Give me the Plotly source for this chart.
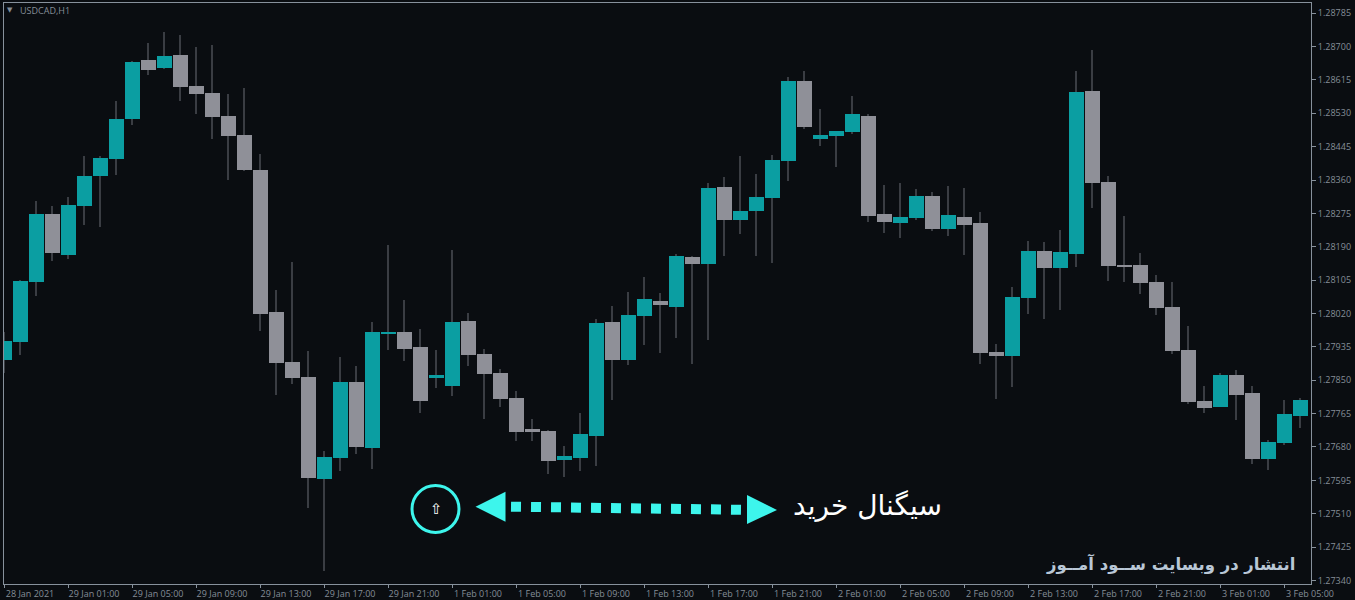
import numpy as np
import plotly.graph_objects as go

opens = [1.27901,1.27947,1.28100,1.28274,1.28169,1.28294,1.28370,1.28414,1.28516,1.28666,1.28646,1.28679,1.28600,1.28582,1.28523,1.28475,1.28386,1.28024,1.27896,1.27858,1.27598,1.27652,1.27845,1.27677,1.27970,1.27973,1.27935,1.27856,1.27835,1.28001,1.27917,1.27868,1.27805,1.27726,1.27721,1.27647,1.27652,1.27708,1.27998,1.27901,1.28014,1.28052,1.28037,1.28164,1.28146,1.28342,1.28258,1.28281,1.28314,1.28409,1.28613,1.28465,1.28472,1.28483,1.28523,1.28274,1.28251,1.28263,1.28319,1.28235,1.28266,1.28251,1.27922,1.27912,1.28059,1.28179,1.28136,1.28172,1.28587,1.28355,1.28144,1.28144,1.28100,1.28037,1.27927,1.27797,1.27782,1.27863,1.27817,1.27649,1.27690,1.27759]
closes = [1.27950,1.28103,1.28274,1.28174,1.28297,1.28370,1.28416,1.28516,1.28661,1.28641,1.28676,1.28597,1.28579,1.28521,1.28472,1.28386,1.28019,1.27894,1.27856,1.27601,1.27654,1.27845,1.27680,1.27973,1.27973,1.27930,1.27797,1.27863,1.27998,1.27914,1.27866,1.27802,1.27718,1.27718,1.27644,1.27657,1.27713,1.27996,1.27901,1.28016,1.28057,1.28042,1.28167,1.28146,1.28340,1.28258,1.28281,1.28317,1.28411,1.28613,1.28495,1.28475,1.28485,1.28528,1.28268,1.28253,1.28266,1.28319,1.28235,1.28271,1.28246,1.27919,1.27912,1.28062,1.28179,1.28136,1.28177,1.28585,1.28353,1.28141,1.28141,1.28098,1.28034,1.27924,1.27794,1.27779,1.27863,1.27812,1.27649,1.27692,1.27764,1.27800]
highs = [1.27973,1.28105,1.28307,1.28294,1.28317,1.28421,1.28421,1.28562,1.28664,1.28709,1.28737,1.28730,1.28699,1.28704,1.28579,1.28595,1.28427,1.28080,1.28151,1.27924,1.27670,1.27909,1.27886,1.27998,1.28195,1.28054,1.27980,1.27927,1.28182,1.28021,1.27930,1.27878,1.27822,1.27751,1.27723,1.27682,1.27766,1.28006,1.28039,1.28075,1.28113,1.28072,1.28172,1.28167,1.28353,1.28368,1.28421,1.28376,1.28424,1.28623,1.28638,1.28541,1.28485,1.28574,1.28528,1.28347,1.28353,1.28337,1.28330,1.28345,1.28340,1.28279,1.27942,1.28087,1.28205,1.28202,1.28233,1.28638,1.28692,1.28370,1.28268,1.28174,1.28118,1.28100,1.27988,1.27835,1.27868,1.27876,1.27835,1.27698,1.27800,1.27805]
lows = [1.27868,1.27914,1.28065,1.28154,1.28159,1.28246,1.28240,1.28373,1.28500,1.28628,1.28643,1.28562,1.28528,1.28465,1.28360,1.28383,1.27975,1.27812,1.27840,1.27524,1.27364,1.27619,1.27662,1.27624,1.27927,1.27899,1.27766,1.27830,1.27810,1.27886,1.27751,1.27782,1.27695,1.27695,1.27611,1.27603,1.27619,1.27631,1.27800,1.27889,1.27940,1.27919,1.27958,1.27891,1.27952,1.28167,1.28223,1.28167,1.28149,1.28358,1.28490,1.28447,1.28393,1.28477,1.28253,1.28225,1.28212,1.28258,1.28230,1.28217,1.28169,1.27891,1.27802,1.27833,1.28019,1.28006,1.28029,1.28138,1.28289,1.28103,1.28100,1.28070,1.28016,1.27917,1.27789,1.27766,1.27782,1.27748,1.27636,1.27621,1.27685,1.27728]

tick_candles = list(range(0, 84, 4))
tick_labels = ["28 Jan 2021","29 Jan 01:00","29 Jan 05:00","29 Jan 09:00","29 Jan 13:00","29 Jan 17:00","29 Jan 21:00",
               "1 Feb 01:00","1 Feb 05:00","1 Feb 09:00","1 Feb 13:00","1 Feb 17:00","1 Feb 21:00",
               "2 Feb 01:00","2 Feb 05:00","2 Feb 09:00","2 Feb 13:00","2 Feb 17:00","2 Feb 21:00",
               "3 Feb 01:00","3 Feb 05:00"]
price_ticks = [1.27340,1.27425,1.27510,1.27595,1.27680,1.27765,1.27850,1.27935,1.28020,1.28105,1.28190,1.28275,1.28360,1.28445,1.28530,1.28615,1.28700,1.28785]
symbol_label = "USDCAD,H1"
signal_label = "سیگنال خرید"
source_label = "انتشار در وبسایت ســود آمــوز"

BG = "#0a0d11"; TEAL = "#0b9ea2"; GREY = "#8f9098"; WICK = "#3a3d43"
FRAME = "#87919c"; LABEL = "#858e98"; CYAN = "#3df5ec"

W, H = 1355, 600
L, R, T, B = 4, 1311, 3, 584   # plot frame in page pixels
def px(x): return (x - L) / (R - L)
def py(y): return (B - y) / (B - T)

o, c, h, l = map(np.array, (opens, closes, highs, lows))
idx = np.arange(len(o))
colors = [TEAL if up else GREY for up in c >= o]

fig = go.Figure()
fig.add_bar(x=idx, base=l, y=h - l, width=2/16, marker=dict(color=WICK, line_width=0), hoverinfo="skip", name="Range")
fig.add_bar(x=idx + 1/32, base=np.minimum(o, c), y=np.abs(c - o), width=15/16,
            marker=dict(color=colors, line_width=0), customdata=np.c_[o, h, l, c], name="USDCAD")

shapes = [
    dict(type="circle", xref="paper", yref="paper", x0=px(412), x1=px(459), y0=py(532.5), y1=py(485.5),
         line=dict(color=CYAN, width=3)),
    dict(type="path", xref="paper", yref="paper", line_width=0, fillcolor=CYAN,
         path=f"M{px(475.5)},{py(506.7)} L{px(505.5)},{py(491.7)} L{px(505.5)},{py(521.7)} Z"),
    dict(type="path", xref="paper", yref="paper", line_width=0, fillcolor=CYAN,
         path=f"M{px(777)},{py(510)} L{px(747)},{py(495)} L{px(747)},{py(524)} Z"),
    dict(type="line", xref="paper", yref="paper", x0=px(511), x1=px(743), y0=py(506.7), y1=py(509.8),
         line=dict(color=CYAN, width=10, dash="10px,10px")),
]

annotations = [
    dict(text="▼", x=px(6), y=py(10.5), xanchor="left", yanchor="middle", font=dict(size=7, color=LABEL, family="DejaVu Sans")),
    dict(text=symbol_label, x=px(19), y=py(10.5), xanchor="left", yanchor="middle", font=dict(size=9, color=LABEL, family="Open Sans")),
    dict(text="⇧", x=px(436), y=py(509), xanchor="center", yanchor="middle", font=dict(size=15, color="#ffffff", family="DejaVu Sans")),
    dict(text=signal_label, x=px(867), y=py(505), xanchor="center", yanchor="middle", font=dict(size=28, color="#ffffff", family="DejaVu Sans")),
    dict(text=f"<b>{source_label}</b>", x=px(1170), y=py(564), xanchor="center", yanchor="middle", font=dict(size=16.5, color="#b9c7d6", family="DejaVu Sans")),
]
for a in annotations:
    a.update(xref="paper", yref="paper", showarrow=False, borderpad=0)

fig.update_layout(
    width=W, height=H, margin=dict(l=L, r=W - R, t=T, b=H - B), autosize=False,
    paper_bgcolor=BG, plot_bgcolor=BG, barmode="overlay", bargap=0, showlegend=False,
    shapes=shapes, annotations=annotations,
    font=dict(family="Open Sans", size=9, color=LABEL),
)
fig.update_xaxes(range=[0, (R - L) / 16], tickmode="array", tickvals=tick_candles, ticktext=tick_labels,
                 automargin=False, ticks="outside", ticklen=3, tickcolor=FRAME, tickangle=0, ticklabelshift=26,
                 ticklabelstandoff=-2, showgrid=False, zeroline=False,
                 showline=True, mirror=True, linecolor=FRAME, linewidth=1, tickfont=dict(size=9, color=LABEL))
fig.update_yaxes(range=[1.27331, 1.28811], side="right", tickmode="array", tickvals=price_ticks, automargin=False,
                 ticktext=[f"{v:.5f}" for v in price_ticks], ticks="outside", ticklen=4, tickcolor=FRAME,
                 showgrid=False, zeroline=False, showline=True, mirror=True, linecolor=FRAME, linewidth=1,
                 tickfont=dict(size=9, color=LABEL))

fig.write_html("out.html", config=dict(displayModeBar=False),
               post_script="document.body.style.margin='0';document.body.style.overflow='hidden';")
